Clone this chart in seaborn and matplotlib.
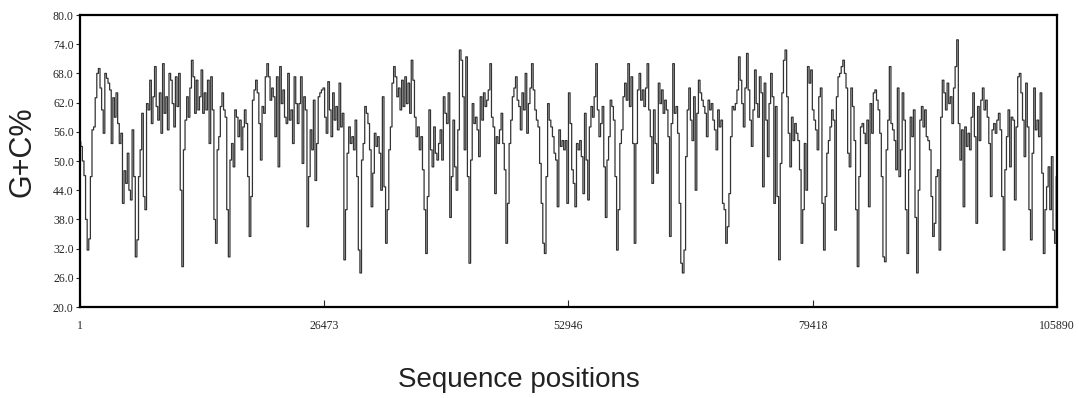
import numpy as np
import pandas as pd
import matplotlib
matplotlib.use('Agg')
import matplotlib.pyplot as plt
import seaborn as sns

sns.set_style('white')

# G+C%, left to right, one window every ~1.7 px
seg1 = [54, 53, 50, 47, 38, 31.7, 34, 46.8, 56.4, 57,
        63, 68, 69, 65, 60.5, 55.7, 68, 67, 66, 64.6,
        53.6, 63, 59, 64, 57.7, 53.6, 55.7, 41.3, 48, 45.4,
        51.6, 44, 42, 56.4, 46.8, 30.3, 33.8, 46.8, 52.3, 59.8,
        42.7, 40, 61.8, 60.5, 66.6, 57.7, 63.2, 69.4, 61.2, 58.4,
        64, 55.7, 70, 59.8, 63.2, 56.4, 68, 66.6, 61.8, 57,
        67.3, 61.2, 68, 44, 28.3, 52.3, 58.4, 63.2, 59, 65,
        70.7, 67.3, 59.8, 66.6, 60.5, 63.2, 68.7, 59.8, 64, 60.5,
        66.6, 53.6, 67.3, 60.5, 38, 33.1, 52.3, 55, 61.2, 64,
        60.5, 59, 40, 30.3, 50.2, 53.6, 48.8, 60.5, 59]
seg2 = [55, 58.4, 52.3, 57, 60.5, 57.7, 46.8, 34.5, 42.7, 62.5,
        64.6, 66.6, 64, 57.7, 50.2, 61.2, 59.8, 67.3, 70, 67.3,
        62.5, 65, 63.2, 55, 67.3, 48.8, 69.4, 61.8, 64.6, 59,
        57.7, 68, 58.4, 60.5, 53.6, 67.3, 61.8, 57.7, 61.8, 67.3,
        49.5, 63.2, 60.5, 36.5, 46.8, 56.4, 52.3, 62.5, 46, 53.6,
        63.2, 64, 64.6, 65, 59, 55.7, 66.3, 60.5, 55, 64,
        58.4, 61.2, 56.4, 66, 57, 59.8, 29.7, 40, 51.6, 57,
        53.6, 55, 52.3, 58.4, 46.8, 31.7, 27, 50.2, 53.6, 61.2,
        59.8, 57.7, 52.3, 40.6, 47.5, 55.7, 53, 55, 51.6, 44,
        63.2, 44.7, 33.1, 40, 52.3, 57, 66, 69.4, 67.3, 63.2,
        65, 60.5, 66.6]
seg3 = [61.2, 67.3, 61.8, 66, 59.8, 70.7, 66.6, 59, 55, 57,
        52.3, 55, 48.2, 40, 31, 42.7, 60.5, 52.3, 48.8, 57,
        51.6, 50.2, 53.6, 56.4, 50.2, 63.2, 59.8, 57.7, 64, 38.4,
        46.8, 58.4, 48.8, 44, 56.4, 72.8, 70.7, 63.2, 52.3, 71.4,
        46.8, 29, 50.2, 61.8, 57.7, 59, 56.4, 50.9, 63.2, 58.4,
        64, 61.2, 62.5, 64.6, 70, 59, 57, 43.3, 55, 53.6,
        56.4, 59.8, 53.6, 48.2, 33.1, 41.3, 53.6, 58.4, 63.2, 65,
        67.3, 62.5, 61.2, 56.4, 64, 60.5, 68, 55.7, 61.8, 65,
        70, 64.6, 60.5, 58.4, 57, 49.5, 41.3, 33.1, 31, 46.8,
        61.8, 58.4, 57, 55, 51.6, 50.2, 40.6, 56.4, 53, 54.2,
        52.3]
seg4 = [54.2, 41.3, 64, 57.7, 48.2, 45.4, 40.6, 53.6, 52.3, 54.2,
        50.9, 43.3, 59.8, 50.2, 42, 57, 61.2, 59, 63.2, 70,
        60.5, 55, 57.7, 61.2, 48.8, 38.4, 50.2, 55, 62.5, 61.2,
        58.4, 46.8, 31.7, 40, 53.6, 56.4, 63.2, 66, 62.5, 70,
        61.2, 67.3, 53.6, 33.1, 53.6, 64.6, 68, 62.5, 64.6, 61.2,
        65, 70, 60.5, 55, 45.4, 60.5, 53.6, 47.5, 66, 61.8,
        64.6, 59.8, 62.5, 60.5, 55, 34.5, 57.7, 70, 59.8, 61.2,
        55.7, 41.3, 29, 27, 31.7, 50.9, 60.5, 65, 58.4, 54.2,
        63.2, 44, 59.8, 66.6, 64, 62.5, 61.2, 59.8, 55, 62.5,
        60.5, 61.8, 58.4, 56.4, 52.3, 60.5, 57, 58.4, 41.3]
seg5 = [40, 33.1, 36.5, 43.3, 55, 61.2, 60.5, 61.8, 64.6, 71.4,
        66.6, 61.8, 57, 65, 72.1, 64.6, 58.4, 53, 60.5, 68.7,
        61.8, 59, 67.3, 64, 44.7, 66, 58.4, 50.9, 61.8, 68,
        63.2, 41.3, 61.2, 42.7, 29.7, 49.5, 64, 70.7, 72.8, 63.2,
        55.7, 48.8, 59, 54.2, 57.7, 55.7, 54.2, 48.2, 33.1, 40,
        53.6, 44, 69.4, 66, 68.7, 60.5, 58.4, 56.4, 52.3, 63.2,
        65, 41.3, 31.7, 42.7, 51.6, 54.2, 57, 60.5, 58.4, 35.8,
        63.2, 67.3, 68, 69.4, 70.7, 68, 65, 51.6, 48.8, 65,
        61.2, 54.2, 40, 28.3, 46.8, 57, 57.7, 55.7, 53.6, 58.4,
        40.6, 61.8, 55.7, 64, 64.6, 62.5, 60.5, 55.7, 46.8, 30.3]
seg6 = [29.3, 52.3, 58.4, 69.4, 57.7, 56.4, 54.2, 48.2, 65, 46.8,
        52.3, 64, 58.4, 40, 31, 48.2, 59, 55, 60.5, 38.4,
        27, 44, 58.4, 61.2, 57, 60.5, 55, 54.2, 52.3, 42.7,
        34.5, 37.2, 46.8, 48.2, 31.7, 59, 66.6, 64, 60.5, 66,
        61.8, 63.2, 57.7, 65, 69.4, 74.9, 57.7, 50.2, 56.4, 40.6,
        57, 53, 55.7, 52.3, 59, 64, 55, 37.2, 61.2, 54.2,
        62.5, 65, 60.5, 62.5, 59, 53.6, 42.7, 56.4, 57.7, 55.7,
        58.4, 59.8, 56.4, 42.7, 31.7, 48.2, 55, 60.5, 48.8, 59,
        58.4, 42, 57, 67.3, 68, 64, 58.4, 50.9, 66, 57,
        40, 33.8, 51.6, 65, 56.4, 58.4, 55, 64, 47.5, 31,
        40, 44.7, 48.8, 40, 50.9, 35.8, 33.1, 46.8]

gc = seg1 + seg2 + seg3 + seg4 + seg5 + seg6
seq_len = 105890
pos = np.linspace(1, seq_len, len(gc))
df = pd.DataFrame({'pos': pos, 'gc': gc})

xticks = [1, 26473, 52946, 79418, 105890]
yticks = np.arange(20, 81, 6)

fig = plt.figure(figsize=(10.79, 3.98), dpi=100)
ax = fig.add_axes([0.0741, 0.2286, 0.9055, 0.7337])
# step drawing gives the blocky window-by-window look of the original
sns.lineplot(data=df, x='pos', y='gc', ax=ax, color='#333333', lw=0.9,
             estimator=None, sort=False, drawstyle='steps-mid')

ax.set_xlim(1, seq_len)
ax.set_ylim(20, 80)
ax.set_xticks(xticks)
ax.set_xticklabels([str(t) for t in xticks], family='Liberation Serif', fontsize=8.5)
ax.set_yticks(yticks)
ax.set_yticklabels([f'{v:.1f}' for v in yticks], family='Liberation Serif', fontsize=8.5)
ax.tick_params(axis='x', direction='in', length=5, width=0.8, pad=9, bottom=True)
ax.tick_params(axis='y', direction='out', length=3, width=0.8, pad=1.5, left=True)
ax.set_xlabel('')
ax.set_ylabel('')
for s in ax.spines.values():
    s.set_color('black')
    s.set_linewidth(1.6)

fig.text(0.0213, 0.62, 'G+C%', rotation=90, ha='center', va='center',
         family='Liberation Sans', fontsize=22, color='#222222')
fig.text(0.481, 0.045, 'Sequence positions', ha='center', va='center',
         family='Liberation Sans', fontsize=20, color='#222222')

fig.savefig('out.png', dpi=100)
